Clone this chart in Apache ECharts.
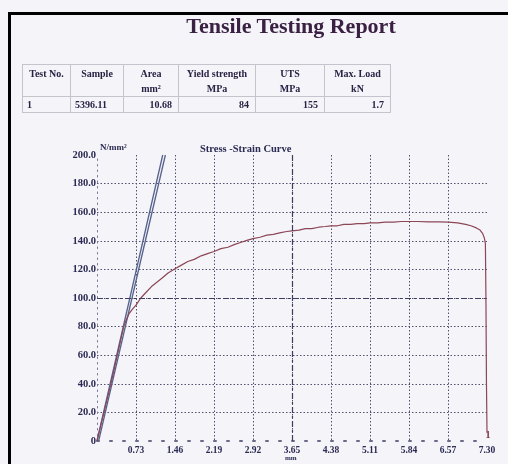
<!DOCTYPE html>
<html>
<head>
<meta charset="utf-8">
<script src="https://cdn.jsdelivr.net/npm/echarts@6/dist/echarts.min.js"></script>
<style>
  html, body { margin: 0; padding: 0; background: #f4f4f9; }
  #wrap { position: relative; width: 508px; height: 464px; overflow: hidden; }
  #chart { position: absolute; left: 0; top: 0; width: 508px; height: 464px; }
  #frame {
    position: absolute; left: 8px; top: 12px; width: 510px; height: 470px;
    border-top: 3px solid #000; border-left: 3px solid #000; pointer-events: none;
  }
  #title {
    position: absolute; left: 0; width: 582px; top: 13px; text-align: center;
    font: bold 22px "Liberation Serif", "DejaVu Serif", serif; color: #3a2042;
  }
  #report {
    position: absolute; left: 22px; top: 64px; border-collapse: collapse;
    font: bold 10px "Liberation Serif", serif; color: #2a2244;
  }
  #report td { border: 1px solid #c4c4cc; padding: 0 5px; line-height: 15px; white-space: nowrap; }
  #report tr.head td { text-align: center; vertical-align: top; height: 29px; padding-top: 1px; }
  #report tr.vals td { height: 15px; text-align: right; padding-right: 6px; }
  #report tr.vals td.l { text-align: left; padding-left: 4px; }
</style>
</head>
<body>
<div id="wrap">
  <div id="chart"></div>
  <div id="frame"></div>
  <div id="title">Tensile Testing Report</div>
  <table id="report">
    <tr class="head">
      <td style="width:37px">Test No.</td>
      <td style="width:42px">Sample</td>
      <td style="width:44px">Area<br>mm²</td>
      <td style="width:66px">Yield strength<br>MPa</td>
      <td style="width:58px">UTS<br>MPa</td>
      <td style="width:55px">Max. Load<br>kN</td>
    </tr>
    <tr class="vals">
      <td class="l">1</td>
      <td class="l">5396.11</td>
      <td>10.68</td>
      <td>84</td>
      <td>155</td>
      <td>1.7</td>
    </tr>
  </table>
</div>
<script>
// strain (mm) / stress (N/mm²)
const strain = [0, 0.07, 0.13, 0.2, 0.26, 0.32, 0.38, 0.44, 0.5, 0.55, 0.6, 0.66, 0.73, 0.82, 0.92, 1.02, 1.12, 1.22, 1.33, 1.46,
  1.58, 1.7, 1.82, 1.95, 2.07, 2.19, 2.32, 2.45, 2.58, 2.7, 2.82, 2.92, 3.05, 3.18, 3.3, 3.42, 3.55, 3.65, 3.78, 3.9,
  4.02, 4.15, 4.27, 4.38, 4.5, 4.62, 4.75, 4.87, 5.0, 5.11, 5.25, 5.4, 5.55, 5.7, 5.84, 6.0, 6.2, 6.4, 6.57, 6.75,
  6.9, 7.0, 7.1, 7.17, 7.22, 7.25, 7.27, 7.28, 7.29, 7.3];
const stress = [0, 11, 20, 31, 40, 50, 60, 70, 80, 85, 89, 92, 95, 100, 104, 108, 111, 114, 117.5, 120.5,
  123, 125.5, 127, 129.5, 131, 132.5, 134.5, 135.5, 137.5, 139, 140.5, 141.5, 142.5, 144, 144.5, 145.5, 146.5, 147, 147.5, 148.5,
  148.5, 149.5, 150, 150.5, 150.5, 151.5, 151.5, 152, 152, 152.5, 152.5, 153, 153, 153.5, 153.5, 153.5, 153.3, 153.2, 153, 152.5,
  151.5, 150.5, 149, 147.5, 145, 142, 138, 100, 40, 6];

// modulus (elastic) lines, drawn double
const elasticA = [[0, 0], [1.23, 200]];
const elasticB = [[0.03, 0], [1.28, 200]];

const curve = strain.map((s, i) => [s, stress[i]]);
const lastPoint = curve[curve.length - 1];

const labelFont = { fontFamily: "Liberation Serif", fontWeight: "bold", color: "#2a2a52" };
const gridLine = { color: "#50506e", width: 1, type: [1.5, 2] };

const chart = echarts.init(document.getElementById("chart"));
chart.setOption({
  backgroundColor: "#f4f4f9",
  animation: false,
  grid: { left: 97, right: 21, top: 155, bottom: 23 },
  xAxis: {
    type: "value",
    min: 0,
    max: 7.3,
    interval: 0.73,
    axisLine: { show: true, onZero: false, lineStyle: { color: "#6a6a88", width: 2, type: [2, 11] } },
    axisTick: { show: false },
    axisLabel: {
      ...labelFont,
      fontSize: 9.5,
      margin: 5,
      showMinLabel: false,
      formatter: (v) => v.toFixed(2),
    },
    splitLine: { show: true, showMinLine: false, showMaxLine: false, lineStyle: gridLine },
  },
  yAxis: {
    type: "value",
    min: 0,
    max: 200,
    interval: 20,
    axisLine: { show: true, lineStyle: { color: "#7a7a96", width: 1, type: [1.5, 4] } },
    axisTick: { show: false },
    axisLabel: {
      ...labelFont,
      fontSize: 10.5,
      margin: 1,
      formatter: (v) => (v === 0 ? "0" : v.toFixed(1)),
    },
    splitLine: { show: true, showMinLine: false, showMaxLine: false, lineStyle: gridLine },
  },
  graphic: [
    { type: "text", left: 100, top: 143, style: { text: "N/mm²", font: "bold 9px 'Liberation Serif'", fill: "#2a2a52" } },
    { type: "text", left: 200, top: 144, style: { text: "Stress -Strain Curve", font: "bold 10.5px 'Liberation Serif'", fill: "#2a2a52" } },
    { type: "text", left: 285, top: 455, style: { text: "mm", font: "bold 7px 'Liberation Serif'", fill: "#2a2a52" } },
  ],
  series: [
    {
      type: "line",
      data: elasticA,
      symbol: "none",
      silent: true,
      lineStyle: { color: "#56628c", width: 1.3 },
    },
    {
      type: "line",
      data: elasticB,
      symbol: "none",
      silent: true,
      lineStyle: { color: "#56628c", width: 1.3 },
    },
    {
      type: "line",
      data: curve,
      symbol: "none",
      lineStyle: { color: "#8c4656", width: 1.2 },
      markPoint: {
        silent: true,
        symbol: "circle",
        symbolSize: 0,
        label: {
          show: true, formatter: "1", offset: [1, 3], color: "#7a3040",
          fontFamily: "Liberation Serif", fontWeight: "bold", fontSize: 10,
        },
        data: [{ coord: lastPoint }],
      },
      markLine: {
        silent: true,
        symbol: "none",
        label: { show: false },
        lineStyle: { color: "#3c3c5c", width: 1.2, type: [6, 3, 2, 3] },
        data: [{ yAxis: 100 }, { xAxis: 3.65 }],
      },
    },
  ],
});
</script>
</body>
</html>
